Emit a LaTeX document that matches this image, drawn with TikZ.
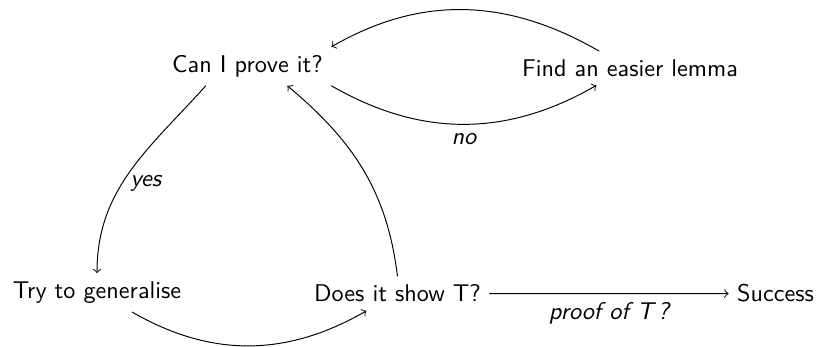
\documentclass[tikz,border=0pt]{standalone}
\usetikzlibrary{arrows.meta}
\begin{document}
\begin{tikzpicture}[x=0.4132pt,y=0.4132pt,
  state/.style={font=\sffamily, anchor=base},
  flow/.style={-to, line width=0.4pt},
  tag/.style={font=\sffamily\itshape}]
\useasboundingbox (0,0) rectangle (818,347);
% steps of the proof loop
\node[state] (can)  at (247.5,274.5) {Can I prove it?};
\node[state] (find) at (630,270.5)   {Find an easier lemma};
\node[state] (try)  at (97,48.5)     {Try to generalise};
\node[state] (does) at (397.5,45)    {Does it show T?};
\node[state] (succ) at (775.5,45)    {Success};
% connectors
\draw[flow] (find.151) to[out=150,in=30] (can.north east);
\draw[flow] (can.south east) to[out=-30,in=210] node[below,tag] {no} (find.207);
\draw[flow] (can.205) to[out=228,in=90] node[pos=0.57,right,tag] {yes} (try.north);
\draw[flow] (try.-29) to[out=-30,in=210] (does.209);
\draw[flow] (does.north) to[out=97,in=-40] (can.-26);
\draw[flow] (does) -- node[below,tag] {proof of T\,?} (succ);
\end{tikzpicture}
\end{document}
